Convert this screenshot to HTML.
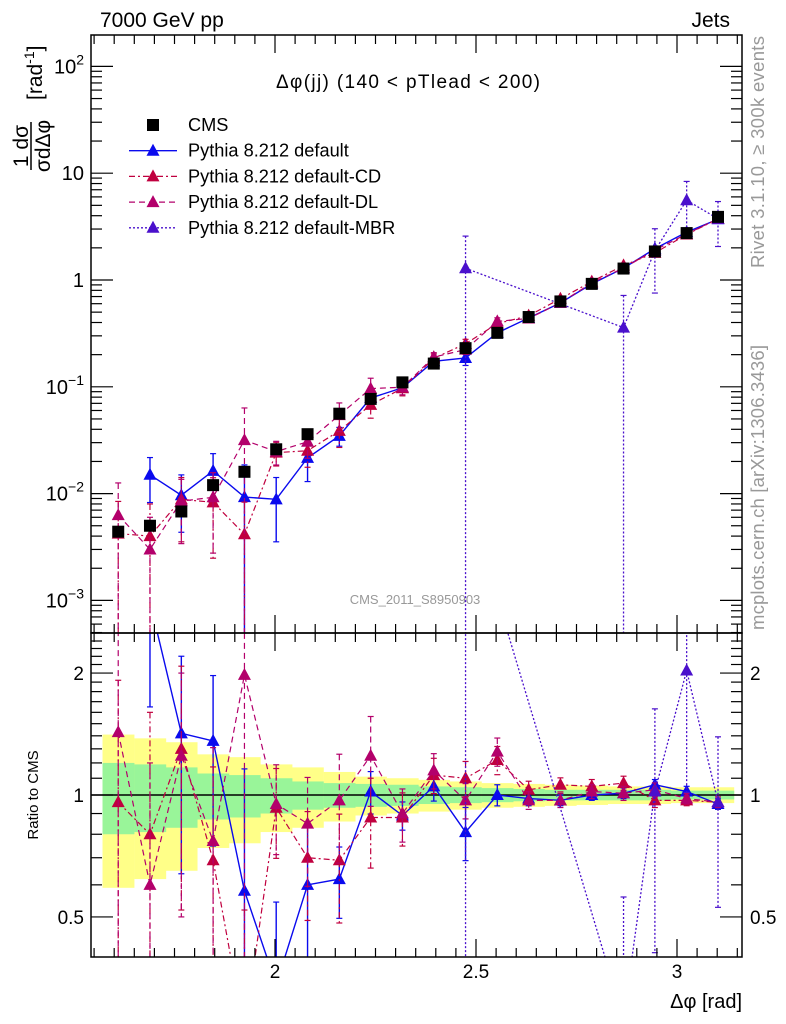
<!DOCTYPE html>
<html><head><meta charset="utf-8"><style>
html,body{margin:0;background:#fff;width:786px;height:1024px;overflow:hidden}
svg{font-family:"Liberation Sans",sans-serif;display:block}
</style></head><body>
<svg id="c" width="786" height="1024" viewBox="0 0 786 1024" overflow="hidden">
<text x="100" y="27" font-size="21">7000 GeV pp</text>
<text x="730" y="27" font-size="21" text-anchor="end">Jets</text>
<text x="276" y="88" font-size="19" textLength="264">Δφ(jj) (140 &lt; pTlead &lt;  200)</text>
<text x="415" y="604" font-size="13" fill="#999" text-anchor="middle">CMS_2011_S8950903</text>
<text transform="translate(764,268) rotate(-90)" font-size="18.5" fill="#999" textLength="232">Rivet 3.1.10, ≥ 300k events</text>
<text transform="translate(764,630) rotate(-90)" font-size="18.5" fill="#999" textLength="285">mcplots.cern.ch [arXiv:1306.3436]</text>
</svg>
<script>
// ---- data ----
const binCenters=[1.610,1.689,1.767,1.846,1.924,2.003,2.081,2.160,2.238,2.317,2.395,2.474,2.553,2.631,2.710,2.788,2.867,2.945,3.024,3.102];
const cmsValues=[0.0044,0.0050,0.0068,0.012,0.016,0.026,0.036,0.056,0.077,0.11,0.165,0.23,0.32,0.45,0.63,0.92,1.28,1.85,2.75,3.9];
const bandYellow=[0.41,0.38,0.35,0.26,0.24,0.19,0.17,0.14,0.11,0.10,0.09,0.08,0.07,0.065,0.06,0.055,0.05,0.05,0.045,0.045];
const bandGreen=[0.20,0.19,0.17,0.13,0.12,0.10,0.08,0.07,0.065,0.06,0.05,0.045,0.04,0.035,0.03,0.03,0.03,0.03,0.025,0.025];
// MC / CMS ratios
const ratioDefault=[null,3.0,1.42,1.36,0.58,0.34,0.60,0.62,1.02,0.89,1.05,0.81,1.00,0.98,0.97,1.00,1.01,1.06,1.02,0.95];
const ratioCD=[0.96,0.80,1.30,0.69,0.26,0.93,0.70,0.69,0.88,0.88,1.12,1.10,1.22,1.03,1.06,1.05,1.07,0.97,0.97,0.96];
const ratioDL=[1.43,0.60,1.25,0.77,1.98,0.95,0.85,0.97,1.25,0.90,1.15,0.97,1.28,0.97,0.97,1.02,1.01,1.03,0.98,0.96];
const ratioMBR=[null,null,null,null,null,null,null,null,null,null,null,5.6,null,null,null,null,0.28,1.02,2.03,0.96];
const errDefault=[0,0.45,0.55,0.45,1.0,0.6,0.4,0.2,0.12,0.08,0.08,0.15,0.06,0.04,0.03,0.03,0.03,0.03,0.03,0.03];
const errMC=[1.0,1.0,0.6,0.7,1.0,0.25,0.3,0.3,0.25,0.15,0.1,0.1,0.08,0.05,0.04,0.04,0.04,0.04,0.03,0.03];
const errMBR=[0,0,0,0,0,0,0,0,0,0,0,1.0,0,0,0,0,1.0,0.6,0.5,0.45];
const xTicks=[2,2.5,3];
const mainTicks=[2,1,0,-1,-2,-3];
const ratioTicks=[2,1,0.5];
// ---- axes ----
const L=91,R=742,T=35,M=633,B=957;
const xs=v=>275+(v-2)*402;
const ym=v=>280-Math.log10(v)*106.8;
const yr=v=>795-Math.log10(v)*405;
const NS='http://www.w3.org/2000/svg';
const svg=document.getElementById('c');
function el(t,a,p){const e=document.createElementNS(NS,t);for(const k in a)e.setAttribute(k,a[k]);(p||svg).appendChild(e);return e;}
const defs=el('defs',{});
const cp1=el('clipPath',{id:'cm'},defs);el('rect',{x:L,y:T,width:R-L,height:M-T},cp1);
const cp2=el('clipPath',{id:'cr'},defs);el('rect',{x:L,y:M,width:R-L,height:B-M},cp2);
const gMain=el('g',{'clip-path':'url(#cm)'});


const gRat=el('g',{'clip-path':'url(#cr)'});


const hw=15.7;
binCenters.forEach((c,i)=>{
  const y=el('rect',{x:xs(c)-hw,width:2*hw+0.5,y:yr(1+bandYellow[i]),height:yr(1-bandYellow[i])-yr(1+bandYellow[i]),fill:'#ffff88'},gRat);
  
  
});
binCenters.forEach((c,i)=>{
  const g=el('rect',{x:xs(c)-hw,width:2*hw+0.5,y:yr(1+bandGreen[i]),height:yr(1-bandGreen[i])-yr(1+bandGreen[i]),fill:'#99f599'},gRat);
  
  
});
el('line',{x1:L,x2:R,y1:yr(1),y2:yr(1),stroke:'#000','stroke-width':1.5},gRat);
const series=[
 {name:'default',r:ratioDefault,e:errDefault,col:'#0a0aee',dash:'',w:1.4},
 {name:'cd',r:ratioCD,e:errMC,col:'#c0003f',dash:'6 3 2 3',w:1.2},
 {name:'dl',r:ratioDL,e:errMC,col:'#b3006b',dash:'6 4',w:1.2},
 {name:'mbr',r:ratioMBR,e:errMBR,col:'#4a10cc',dash:'2 2',w:1.3}];
function tri(g,x,y,col){return el('polygon',{points:`${x},${y-7} ${x-6.5},${y+5} ${x+6.5},${y+5}`,fill:col},g);}
series.forEach(s=>{
 [[gMain,(i)=>ym(cmsValues[i]*s.r[i]),(i,f)=>ym(Math.max(cmsValues[i]*s.r[i]*f,1e-6))],
  [gRat,(i)=>yr(s.r[i]),(i,f)=>yr(Math.max(s.r[i]*f,1e-3))]].forEach(([g,fy,fe],pi)=>{
  const pts=[];
  s.r.forEach((r,i)=>{if(r!=null)pts.push(xs(binCenters[i])+','+fy(i));});
  const pl=el('polyline',{points:pts.join(' '),fill:'none',stroke:s.col,'stroke-width':s.w,'stroke-dasharray':s.dash},g);
  
  
  s.r.forEach((r,i)=>{if(r==null)return;const x=xs(binCenters[i]);
   const e=s.e[i];
   if(e>0){const y1=fe(i,1+e),y2=Math.min(fe(i,1-e),1000);
    el('line',{x1:x,x2:x,y1:y1,y2:y2,stroke:s.col,'stroke-width':s.w,'stroke-dasharray':s.dash},g);
    el('line',{x1:x-3,x2:x+3,y1:y1,y2:y1,stroke:s.col,'stroke-width':1.2},g);
    el('line',{x1:x-3,x2:x+3,y1:y2,y2:y2,stroke:s.col,'stroke-width':1.2},g);}
   const t=tri(g,x,fy(i),s.col);
   
   
  });
 });
});
binCenters.forEach((c,i)=>{
 const r=el('rect',{x:xs(c)-6,y:ym(cmsValues[i])-6,width:12,height:12,fill:'#000'},gMain);
 
 
});
[[T,M],[M,B]].forEach(([a,b])=>el('rect',{x:L,y:a,width:R-L,height:b-a,fill:'none',stroke:'#000','stroke-width':1.5}));
for(let v=1.55;v<=3.16;v+=0.05){const x=xs(v);if(x<L+1||x>R-1)continue;
 const maj=Math.abs(v*2-Math.round(v*2))<1e-6;const len=maj?18:9;
 [T,M].forEach(y=>el('line',{x1:x,x2:x,y1:y,y2:y+len,stroke:'#000','stroke-width':1.2}));
 [M,B].forEach(y=>el('line',{x1:x,x2:x,y1:y,y2:y-len,stroke:'#000','stroke-width':1.2}));}
xTicks.forEach(v=>{const t=el('text',{x:xs(v),y:978,'font-size':19,'text-anchor':'middle'});t.textContent=v;
 
 });
for(let d=-4;d<=2;d++)for(let k=1;k<10;k++){const y=ym(k*Math.pow(10,d));if(y<T||y>M)continue;
 const len=k==1?22:11;el('line',{x1:L,x2:L+len,y1:y,y2:y,stroke:'#000','stroke-width':1.2});el('line',{x1:R,x2:R-len,y1:y,y2:y,stroke:'#000','stroke-width':1.2});}
mainTicks.forEach(d=>{const t=el('text',{x:84,y:ym(Math.pow(10,d))+7,'font-size':20,'text-anchor':'end'});
 if(d>=2||d<0){t.textContent='10';const sp=el('tspan',{dy:-9,'font-size':14},t);sp.textContent=d==2?'2':'−'+(-d);}
 else t.textContent=d==1?'10':'1';
 
 });
for(let v=0.4;v<=2.5;v+=0.1){const y=yr(v);if(y<M+1||y>B-1)continue;const maj=[0.5,1,2].some(m=>Math.abs(m-v)<1e-6);
 const len=maj?22:11;el('line',{x1:L,x2:L+len,y1:y,y2:y,stroke:'#000','stroke-width':1.2});el('line',{x1:R,x2:R-len,y1:y,y2:y,stroke:'#000','stroke-width':1.2});}
ratioTicks.forEach(v=>{[[84,'end'],[750,'start']].forEach(([x,a])=>{const t=el('text',{x:x,y:yr(v)+7,'font-size':19,'text-anchor':a});t.textContent=v;
 
 });});
const rl=el('text',{transform:'translate(38,795) rotate(-90)','font-size':15,'text-anchor':'middle'});rl.textContent='Ratio to CMS';


const xl=el('text',{x:742,y:1008,'font-size':20,'text-anchor':'end'});xl.textContent='Δφ [rad]';


const yt=el('g',{});


const t1=el('text',{transform:'translate(42,100) rotate(-90)','font-size':21,'text-anchor':'start'},yt);t1.textContent='[rad';
const t1s=el('tspan',{dy:-8,'font-size':14},t1);t1s.textContent='-1';const t1b=el('tspan',{dy:8},t1);t1b.textContent=']';
const f1=el('text',{transform:'translate(28,146) rotate(-90)','font-size':21,'text-anchor':'middle'},yt);f1.textContent='1 dσ';
el('line',{x1:31,x2:31,y1:170,y2:122,stroke:'#000','stroke-width':1.5},yt);
const f2=el('text',{transform:'translate(50,146) rotate(-90)','font-size':21,'text-anchor':'middle'},yt);f2.textContent='σdΔφ';
const leg=[['CMS',null],['Pythia 8.212 default',series[0]],['Pythia 8.212 default-CD',series[1]],['Pythia 8.212 default-DL',series[2]],['Pythia 8.212 default-MBR',series[3]]];
leg.forEach(([lab,s],i)=>{const y=125+i*25.7;const g=el('g',{});
 
 
 if(!s)el('rect',{x:147,y:y-6,width:12,height:12,fill:'#000'},g);
 else{el('line',{x1:129,x2:177,y1:y,y2:y,stroke:s.col,'stroke-width':s.w,'stroke-dasharray':s.dash},g);tri(g,153,y,s.col);}
 const t=el('text',{x:188,y:y+6,'font-size':18.2},g);t.textContent=lab;});
</script>
</body></html>
